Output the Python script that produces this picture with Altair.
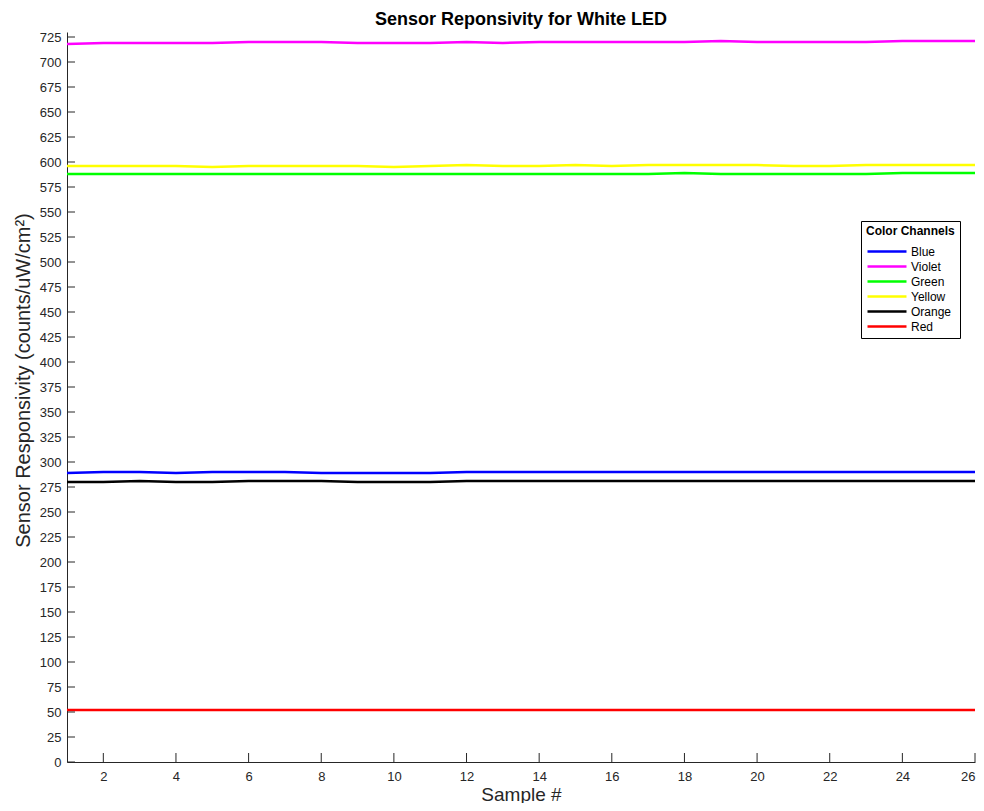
import altair as alt
import pandas as pd

samples = list(range(1, 27))
channels = ["Blue", "Violet", "Green", "Yellow", "Orange", "Red"]
colors = ["#0000ff", "#ff00ff", "#00ff00", "#ffff00", "#000000", "#ff0000"]

blue = [289, 290, 290, 289, 290, 290, 290, 289, 289, 289, 289, 290, 290,
        290, 290, 290, 290, 290, 290, 290, 290, 290, 290, 290, 290, 290]
violet = [718, 719, 719, 719, 719, 720, 720, 720, 719, 719, 719, 720, 719,
          720, 720, 720, 720, 720, 721, 720, 720, 720, 720, 721, 721, 721]
green = [588, 588, 588, 588, 588, 588, 588, 588, 588, 588, 588, 588, 588,
         588, 588, 588, 588, 589, 588, 588, 588, 588, 588, 589, 589, 589]
yellow = [596, 596, 596, 596, 595, 596, 596, 596, 596, 595, 596, 597, 596,
          596, 597, 596, 597, 597, 597, 597, 596, 596, 597, 597, 597, 597]
orange = [280, 280, 281, 280, 280, 281, 281, 281, 280, 280, 280, 281, 281,
          281, 281, 281, 281, 281, 281, 281, 281, 281, 281, 281, 281, 281]
red = [52] * 26

series = [blue, violet, green, yellow, orange, red]
y_ticks = list(range(0, 726, 25))
x_ticks = list(range(2, 27, 2))

rows = []
for name, vals in zip(channels, series):
    for s, v in zip(samples, vals):
        rows.append({"Sample": s, "Value": v, "Channel": name})
df = pd.DataFrame(rows)

W, H = 908, 730
xscale = alt.Scale(domain=[1, 26], nice=False, zero=False)
yscale = alt.Scale(domain=[0, 730], nice=False, zero=False)
FONT = "Liberation Sans"
AX = "#262626"

xaxis = alt.Axis(values=x_ticks, ticks=False, grid=False, title="Sample #",
                 labelFontSize=13, titleFontSize=19, labelPadding=8,
                 titlePadding=2, titleFontWeight="normal")
yaxis = alt.Axis(values=y_ticks, ticks=False, grid=False,
                 title="Sensor Responsivity (counts/uW/cm²)",
                 labelFontSize=13, titleFontSize=20, labelPadding=6,
                 titlePadding=6, titleFontWeight="normal", titleY=348)

lines = alt.Chart(df).mark_line(strokeWidth=2.5).encode(
    x=alt.X("Sample:Q", scale=xscale, axis=xaxis),
    y=alt.Y("Value:Q", scale=yscale, axis=yaxis),
    color=alt.Color("Channel:N",
                    scale=alt.Scale(domain=channels, range=colors),
                    legend=alt.Legend(title="Color Channels", orient="none",
                                      legendX=794, legendY=189,
                                      symbolType="stroke", symbolSize=1520,
                                      symbolStrokeWidth=2.5, clipHeight=13,
                                      fillColor="white", strokeColor="black",
                                      padding=5, labelFontSize=12,
                                      titleFontSize=12, titleFontWeight="bold",
                                      rowPadding=2, titlePadding=7,
                                      labelOffset=3)),
    detail="Channel:N",
)

ytick_df = pd.DataFrame({"Value": y_ticks})
xtick_df = pd.DataFrame({"Sample": x_ticks})

yt = alt.Chart(ytick_df).mark_rule(color=AX, strokeWidth=1).encode(
    y=alt.Y("Value:Q", scale=yscale, axis=yaxis),
    x=alt.value(0), x2=alt.value(8),
)
xt = alt.Chart(xtick_df).mark_rule(color=AX, strokeWidth=1).encode(
    x=alt.X("Sample:Q", scale=xscale, axis=xaxis),
    y=alt.value(H), y2=alt.value(H - 9),
)

chart = alt.layer(lines, yt, xt).properties(
    width=W, height=H,
    title=alt.TitleParams("Sensor Reponsivity for White LED", fontSize=18,
                          fontWeight="bold", font=FONT, color="black", offset=2),
    autosize=alt.AutoSizeParams(type="none"),
    padding={"left": 59, "top": 24, "right": 1, "bottom": 41},
).configure_view(stroke=None).configure_axis(
    domainColor=AX, labelColor=AX, titleColor=AX, labelFont=FONT, titleFont=FONT,
).configure_legend(labelFont=FONT, titleFont=FONT, labelColor="black", titleColor="black")

chart.save("out.html", embed_options={"renderer": "svg", "actions": False})
